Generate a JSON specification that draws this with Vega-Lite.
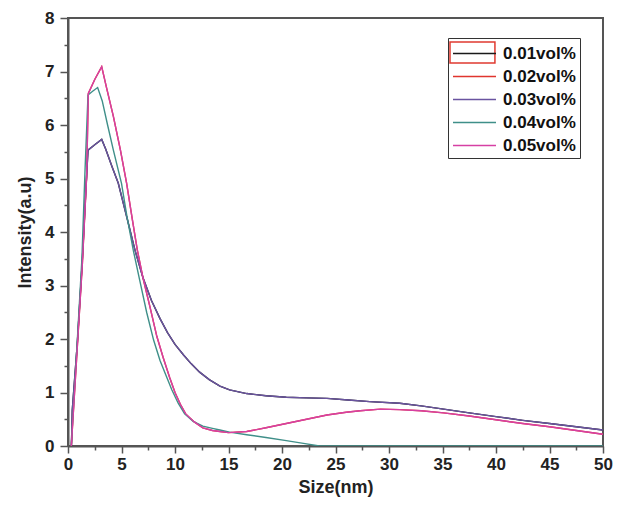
{
  "$schema": "https://vega.github.io/schema/vega-lite/v6.json",
  "width": 535,
  "height": 428,
  "autosize": {"type": "none"},
  "padding": {"left": 68, "top": 18, "right": 20, "bottom": 59},
  "background": "white",
  "config": {
    "font": "Liberation Sans",
    "view": {"stroke": "#555", "strokeWidth": 2},
    "axis": {
      "domainColor": "#555", "domainWidth": 2, "tickColor": "#555", "tickWidth": 1.5,
      "grid": false, "labelFont": "Liberation Sans", "labelFontWeight": "bold", "labelFontSize": 17,
      "labelColor": "#222", "titleFont": "Liberation Sans", "titleFontWeight": "bold", "titleFontSize": 18, "titleColor": "#222"
    }
  },
  "datasets": {
    "curves": [
      {"series": "0.01vol%", "size": 0.32, "intensity": 0},
      {"series": "0.01vol%", "size": 0.4, "intensity": 0.67},
      {"series": "0.01vol%", "size": 0.87, "intensity": 1.92},
      {"series": "0.01vol%", "size": 1.34, "intensity": 3.48},
      {"series": "0.01vol%", "size": 1.65, "intensity": 4.72},
      {"series": "0.01vol%", "size": 1.87, "intensity": 5.53},
      {"series": "0.01vol%", "size": 2.5, "intensity": 5.63},
      {"series": "0.01vol%", "size": 3.15, "intensity": 5.73},
      {"series": "0.01vol%", "size": 3.52, "intensity": 5.55},
      {"series": "0.01vol%", "size": 4.1, "intensity": 5.23},
      {"series": "0.01vol%", "size": 4.7, "intensity": 4.91},
      {"series": "0.01vol%", "size": 5.48, "intensity": 4.29},
      {"series": "0.01vol%", "size": 6.26, "intensity": 3.66},
      {"series": "0.01vol%", "size": 7.0, "intensity": 3.15},
      {"series": "0.01vol%", "size": 7.8, "intensity": 2.72},
      {"series": "0.01vol%", "size": 8.6, "intensity": 2.38},
      {"series": "0.01vol%", "size": 9.3, "intensity": 2.12},
      {"series": "0.01vol%", "size": 10.0, "intensity": 1.9},
      {"series": "0.01vol%", "size": 10.8, "intensity": 1.7},
      {"series": "0.01vol%", "size": 11.5, "intensity": 1.54},
      {"series": "0.01vol%", "size": 12.3, "intensity": 1.38},
      {"series": "0.01vol%", "size": 13.2, "intensity": 1.24},
      {"series": "0.01vol%", "size": 14.2, "intensity": 1.12},
      {"series": "0.01vol%", "size": 15.1, "intensity": 1.05},
      {"series": "0.01vol%", "size": 16.7, "intensity": 0.98},
      {"series": "0.01vol%", "size": 18.5, "intensity": 0.94},
      {"series": "0.01vol%", "size": 20.4, "intensity": 0.91},
      {"series": "0.01vol%", "size": 22.3, "intensity": 0.9},
      {"series": "0.01vol%", "size": 24.2, "intensity": 0.89},
      {"series": "0.01vol%", "size": 26.2, "intensity": 0.86},
      {"series": "0.01vol%", "size": 28.2, "intensity": 0.83},
      {"series": "0.01vol%", "size": 31, "intensity": 0.8},
      {"series": "0.01vol%", "size": 33, "intensity": 0.75},
      {"series": "0.01vol%", "size": 35.1, "intensity": 0.69},
      {"series": "0.01vol%", "size": 37.5, "intensity": 0.62},
      {"series": "0.01vol%", "size": 40, "intensity": 0.55},
      {"series": "0.01vol%", "size": 42.5, "intensity": 0.48},
      {"series": "0.01vol%", "size": 45, "intensity": 0.42},
      {"series": "0.01vol%", "size": 47.5, "intensity": 0.36},
      {"series": "0.01vol%", "size": 50, "intensity": 0.3},

      {"series": "0.02vol%", "size": 0.31, "intensity": 0},
      {"series": "0.02vol%", "size": 0.87, "intensity": 1.85},
      {"series": "0.02vol%", "size": 1.34, "intensity": 3.4},
      {"series": "0.02vol%", "size": 1.74, "intensity": 5.03},
      {"series": "0.02vol%", "size": 1.9, "intensity": 6.59},
      {"series": "0.02vol%", "size": 2.5, "intensity": 6.85},
      {"series": "0.02vol%", "size": 3.15, "intensity": 7.09},
      {"series": "0.02vol%", "size": 3.6, "intensity": 6.7},
      {"series": "0.02vol%", "size": 4.24, "intensity": 6.16},
      {"series": "0.02vol%", "size": 4.9, "intensity": 5.53},
      {"series": "0.02vol%", "size": 5.48, "intensity": 4.91},
      {"series": "0.02vol%", "size": 6.0, "intensity": 4.25},
      {"series": "0.02vol%", "size": 6.48, "intensity": 3.66},
      {"series": "0.02vol%", "size": 7.0, "intensity": 3.15},
      {"series": "0.02vol%", "size": 7.66, "intensity": 2.6},
      {"series": "0.02vol%", "size": 8.3, "intensity": 2.05},
      {"series": "0.02vol%", "size": 8.9, "intensity": 1.65},
      {"series": "0.02vol%", "size": 9.5, "intensity": 1.28},
      {"series": "0.02vol%", "size": 10.0, "intensity": 1.0},
      {"series": "0.02vol%", "size": 10.5, "intensity": 0.78},
      {"series": "0.02vol%", "size": 11.0, "intensity": 0.6},
      {"series": "0.02vol%", "size": 11.8, "intensity": 0.45},
      {"series": "0.02vol%", "size": 12.6, "intensity": 0.34},
      {"series": "0.02vol%", "size": 13.5, "intensity": 0.29},
      {"series": "0.02vol%", "size": 14.2, "intensity": 0.27},
      {"series": "0.02vol%", "size": 15.0, "intensity": 0.25},
      {"series": "0.02vol%", "size": 16.7, "intensity": 0.27},
      {"series": "0.02vol%", "size": 18.5, "intensity": 0.34},
      {"series": "0.02vol%", "size": 20.4, "intensity": 0.42},
      {"series": "0.02vol%", "size": 22.3, "intensity": 0.5},
      {"series": "0.02vol%", "size": 24.2, "intensity": 0.58},
      {"series": "0.02vol%", "size": 26, "intensity": 0.63},
      {"series": "0.02vol%", "size": 27.3, "intensity": 0.66},
      {"series": "0.02vol%", "size": 29.2, "intensity": 0.69},
      {"series": "0.02vol%", "size": 31, "intensity": 0.68},
      {"series": "0.02vol%", "size": 33, "intensity": 0.66},
      {"series": "0.02vol%", "size": 35.1, "intensity": 0.62},
      {"series": "0.02vol%", "size": 37.5, "intensity": 0.56},
      {"series": "0.02vol%", "size": 40, "intensity": 0.49},
      {"series": "0.02vol%", "size": 42.5, "intensity": 0.42},
      {"series": "0.02vol%", "size": 45, "intensity": 0.36},
      {"series": "0.02vol%", "size": 47.5, "intensity": 0.29},
      {"series": "0.02vol%", "size": 50, "intensity": 0.22},

      {"series": "0.03vol%", "size": 0.32, "intensity": 0},
      {"series": "0.03vol%", "size": 0.4, "intensity": 0.67},
      {"series": "0.03vol%", "size": 0.87, "intensity": 1.92},
      {"series": "0.03vol%", "size": 1.34, "intensity": 3.48},
      {"series": "0.03vol%", "size": 1.65, "intensity": 4.72},
      {"series": "0.03vol%", "size": 1.87, "intensity": 5.53},
      {"series": "0.03vol%", "size": 2.5, "intensity": 5.63},
      {"series": "0.03vol%", "size": 3.15, "intensity": 5.73},
      {"series": "0.03vol%", "size": 3.52, "intensity": 5.55},
      {"series": "0.03vol%", "size": 4.1, "intensity": 5.23},
      {"series": "0.03vol%", "size": 4.7, "intensity": 4.91},
      {"series": "0.03vol%", "size": 5.48, "intensity": 4.29},
      {"series": "0.03vol%", "size": 6.26, "intensity": 3.66},
      {"series": "0.03vol%", "size": 7.0, "intensity": 3.15},
      {"series": "0.03vol%", "size": 7.8, "intensity": 2.72},
      {"series": "0.03vol%", "size": 8.6, "intensity": 2.38},
      {"series": "0.03vol%", "size": 9.3, "intensity": 2.12},
      {"series": "0.03vol%", "size": 10.0, "intensity": 1.9},
      {"series": "0.03vol%", "size": 10.8, "intensity": 1.7},
      {"series": "0.03vol%", "size": 11.5, "intensity": 1.54},
      {"series": "0.03vol%", "size": 12.3, "intensity": 1.38},
      {"series": "0.03vol%", "size": 13.2, "intensity": 1.24},
      {"series": "0.03vol%", "size": 14.2, "intensity": 1.12},
      {"series": "0.03vol%", "size": 15.1, "intensity": 1.05},
      {"series": "0.03vol%", "size": 16.7, "intensity": 0.98},
      {"series": "0.03vol%", "size": 18.5, "intensity": 0.94},
      {"series": "0.03vol%", "size": 20.4, "intensity": 0.91},
      {"series": "0.03vol%", "size": 22.3, "intensity": 0.9},
      {"series": "0.03vol%", "size": 24.2, "intensity": 0.89},
      {"series": "0.03vol%", "size": 26.2, "intensity": 0.86},
      {"series": "0.03vol%", "size": 28.2, "intensity": 0.83},
      {"series": "0.03vol%", "size": 31, "intensity": 0.8},
      {"series": "0.03vol%", "size": 33, "intensity": 0.75},
      {"series": "0.03vol%", "size": 35.1, "intensity": 0.69},
      {"series": "0.03vol%", "size": 37.5, "intensity": 0.62},
      {"series": "0.03vol%", "size": 40, "intensity": 0.55},
      {"series": "0.03vol%", "size": 42.5, "intensity": 0.48},
      {"series": "0.03vol%", "size": 45, "intensity": 0.42},
      {"series": "0.03vol%", "size": 47.5, "intensity": 0.36},
      {"series": "0.03vol%", "size": 50, "intensity": 0.3},

      {"series": "0.04vol%", "size": 0.3, "intensity": 0},
      {"series": "0.04vol%", "size": 0.85, "intensity": 1.9},
      {"series": "0.04vol%", "size": 1.3, "intensity": 3.5},
      {"series": "0.04vol%", "size": 1.6, "intensity": 5.2},
      {"series": "0.04vol%", "size": 1.87, "intensity": 6.56},
      {"series": "0.04vol%", "size": 2.3, "intensity": 6.63},
      {"series": "0.04vol%", "size": 2.77, "intensity": 6.7},
      {"series": "0.04vol%", "size": 3.2, "intensity": 6.45},
      {"series": "0.04vol%", "size": 3.7, "intensity": 6.0},
      {"series": "0.04vol%", "size": 4.24, "intensity": 5.53},
      {"series": "0.04vol%", "size": 5.0, "intensity": 4.91},
      {"series": "0.04vol%", "size": 5.5, "intensity": 4.3},
      {"series": "0.04vol%", "size": 6.1, "intensity": 3.66},
      {"series": "0.04vol%", "size": 6.7, "intensity": 3.1},
      {"series": "0.04vol%", "size": 7.35, "intensity": 2.5},
      {"series": "0.04vol%", "size": 8.0, "intensity": 1.98},
      {"series": "0.04vol%", "size": 8.6, "intensity": 1.6},
      {"series": "0.04vol%", "size": 9.2, "intensity": 1.3},
      {"series": "0.04vol%", "size": 9.7, "intensity": 1.05},
      {"series": "0.04vol%", "size": 10.3, "intensity": 0.8},
      {"series": "0.04vol%", "size": 10.9, "intensity": 0.6},
      {"series": "0.04vol%", "size": 11.7, "intensity": 0.46},
      {"series": "0.04vol%", "size": 12.6, "intensity": 0.37},
      {"series": "0.04vol%", "size": 13.5, "intensity": 0.33},
      {"series": "0.04vol%", "size": 14.2, "intensity": 0.3},
      {"series": "0.04vol%", "size": 15.1, "intensity": 0.26},
      {"series": "0.04vol%", "size": 16.7, "intensity": 0.21},
      {"series": "0.04vol%", "size": 18.5, "intensity": 0.16},
      {"series": "0.04vol%", "size": 20.4, "intensity": 0.1},
      {"series": "0.04vol%", "size": 22, "intensity": 0.05},
      {"series": "0.04vol%", "size": 23.5, "intensity": 0},
      {"series": "0.04vol%", "size": 50, "intensity": 0},

      {"series": "0.05vol%", "size": 0.31, "intensity": 0},
      {"series": "0.05vol%", "size": 0.87, "intensity": 1.85},
      {"series": "0.05vol%", "size": 1.34, "intensity": 3.4},
      {"series": "0.05vol%", "size": 1.74, "intensity": 5.03},
      {"series": "0.05vol%", "size": 1.9, "intensity": 6.59},
      {"series": "0.05vol%", "size": 2.5, "intensity": 6.85},
      {"series": "0.05vol%", "size": 3.15, "intensity": 7.09},
      {"series": "0.05vol%", "size": 3.6, "intensity": 6.7},
      {"series": "0.05vol%", "size": 4.24, "intensity": 6.16},
      {"series": "0.05vol%", "size": 4.9, "intensity": 5.53},
      {"series": "0.05vol%", "size": 5.48, "intensity": 4.91},
      {"series": "0.05vol%", "size": 6.0, "intensity": 4.25},
      {"series": "0.05vol%", "size": 6.48, "intensity": 3.66},
      {"series": "0.05vol%", "size": 7.0, "intensity": 3.15},
      {"series": "0.05vol%", "size": 7.66, "intensity": 2.6},
      {"series": "0.05vol%", "size": 8.3, "intensity": 2.05},
      {"series": "0.05vol%", "size": 8.9, "intensity": 1.65},
      {"series": "0.05vol%", "size": 9.5, "intensity": 1.28},
      {"series": "0.05vol%", "size": 10.0, "intensity": 1.0},
      {"series": "0.05vol%", "size": 10.5, "intensity": 0.78},
      {"series": "0.05vol%", "size": 11.0, "intensity": 0.6},
      {"series": "0.05vol%", "size": 11.8, "intensity": 0.45},
      {"series": "0.05vol%", "size": 12.6, "intensity": 0.34},
      {"series": "0.05vol%", "size": 13.5, "intensity": 0.29},
      {"series": "0.05vol%", "size": 14.2, "intensity": 0.27},
      {"series": "0.05vol%", "size": 15.0, "intensity": 0.25},
      {"series": "0.05vol%", "size": 16.7, "intensity": 0.27},
      {"series": "0.05vol%", "size": 18.5, "intensity": 0.34},
      {"series": "0.05vol%", "size": 20.4, "intensity": 0.42},
      {"series": "0.05vol%", "size": 22.3, "intensity": 0.5},
      {"series": "0.05vol%", "size": 24.2, "intensity": 0.58},
      {"series": "0.05vol%", "size": 26, "intensity": 0.63},
      {"series": "0.05vol%", "size": 27.3, "intensity": 0.66},
      {"series": "0.05vol%", "size": 29.2, "intensity": 0.69},
      {"series": "0.05vol%", "size": 31, "intensity": 0.68},
      {"series": "0.05vol%", "size": 33, "intensity": 0.66},
      {"series": "0.05vol%", "size": 35.1, "intensity": 0.62},
      {"series": "0.05vol%", "size": 37.5, "intensity": 0.56},
      {"series": "0.05vol%", "size": 40, "intensity": 0.49},
      {"series": "0.05vol%", "size": 42.5, "intensity": 0.42},
      {"series": "0.05vol%", "size": 45, "intensity": 0.36},
      {"series": "0.05vol%", "size": 47.5, "intensity": 0.29},
      {"series": "0.05vol%", "size": 50, "intensity": 0.22}
    ]
  },
  "layer": [
    {
      "data": {"name": "curves"},
      "mark": {"type": "line", "strokeWidth": 1.4, "clip": true},
      "encoding": {
        "x": {"field": "size", "type": "quantitative",
          "scale": {"domain": [0, 50], "nice": false, "zero": false},
          "axis": {"orient": "bottom", "values": [0, 5, 10, 15, 20, 25, 30, 35, 40, 45, 50], "tickSize": 7, "labelPadding": 3, "title": "Size(nm)", "titlePadding": 6, "labelFlush": false}},
        "y": {"field": "intensity", "type": "quantitative",
          "scale": {"domain": [0, 8], "nice": false, "zero": false},
          "axis": {"orient": "left", "values": [0, 1, 2, 3, 4, 5, 6, 7, 8], "tickSize": 8, "labelPadding": 6, "title": "Intensity(a.u)", "titlePadding": 10, "labelFlush": false}},
        "color": {"field": "series", "type": "nominal",
          "scale": {"domain": ["0.01vol%", "0.02vol%", "0.03vol%", "0.04vol%", "0.05vol%"],
                    "range": ["#1a1a1a", "#e0352e", "#6a54a0", "#3f8f89", "#d640a4"]},
          "legend": {"orient": "none", "legendX": 380, "legendY": 20, "title": null,
            "symbolType": "M-2,0H2", "symbolSize": 462, "symbolStrokeWidth": 1.5, "symbolFillColor": "transparent",
            "symbolOffset": 11, "labelOffset": 17,
            "labelFont": "Liberation Sans", "labelFontSize": 17, "labelFontWeight": "bold", "labelColor": "#111",
            "strokeColor": "#333", "padding": 4, "rowPadding": 3}}
      }
    },
    {
      "data": {"name": "curves"},
      "mark": {"type": "point", "opacity": 0},
      "encoding": {
        "x": {"field": "size", "type": "quantitative",
          "scale": {"domain": [0, 50], "nice": false, "zero": false},
          "axis": {"orient": "bottom", "values": [2.5, 7.5, 12.5, 17.5, 22.5, 27.5, 32.5, 37.5, 42.5, 47.5], "tickSize": 4, "labels": false, "domain": false, "title": null}},
        "y": {"field": "intensity", "type": "quantitative",
          "scale": {"domain": [0, 8], "nice": false, "zero": false},
          "axis": {"orient": "left", "values": [0.5, 1.5, 2.5, 3.5, 4.5, 5.5, 6.5, 7.5], "tickSize": 4, "labels": false, "domain": false, "title": null}}
      }
    },
    {
      "data": {"values": [{"note": "highlight"}]},
      "mark": {"type": "rect", "fill": "transparent", "stroke": "#e03a30", "strokeWidth": 1.5},
      "encoding": {
        "x": {"datum": 35.7, "type": "quantitative", "scale": {"domain": [0, 50], "nice": false, "zero": false}, "axis": null},
        "x2": {"datum": 39.9},
        "y": {"datum": 7.55, "type": "quantitative", "scale": {"domain": [0, 8], "nice": false, "zero": false}, "axis": null},
        "y2": {"datum": 7.16}
      }
    },
    {
      "mark": {"type": "text", "align": "left", "baseline": "alphabetic", "font": "Liberation Sans", "fontSize": 18, "color": "#111"},
      "encoding": {
        "x": {"datum": 3.45, "type": "quantitative", "scale": {"domain": [0, 50], "nice": false, "zero": false}, "axis": null},
        "y": {"datum": 7.3, "type": "quantitative", "scale": {"domain": [0, 8], "nice": false, "zero": false}, "axis": null},
        "text": {"value": "d=3.12nm"}
      }
    },
    {
      "mark": {"type": "text", "align": "left", "baseline": "alphabetic", "font": "Liberation Sans", "fontSize": 15, "fontWeight": "bold", "color": "#111"},
      "encoding": {
        "x": {"datum": 16.7, "type": "quantitative", "scale": {"domain": [0, 50], "nice": false, "zero": false}, "axis": null},
        "y": {"datum": 7.47, "type": "quantitative", "scale": {"domain": [0, 8], "nice": false, "zero": false}, "axis": null},
        "text": {"value": "Al₂O₃+H₂O Nanofluid"}
      }
    }
  ],
  "resolve": {"axis": {"x": "independent", "y": "independent"}}
}
